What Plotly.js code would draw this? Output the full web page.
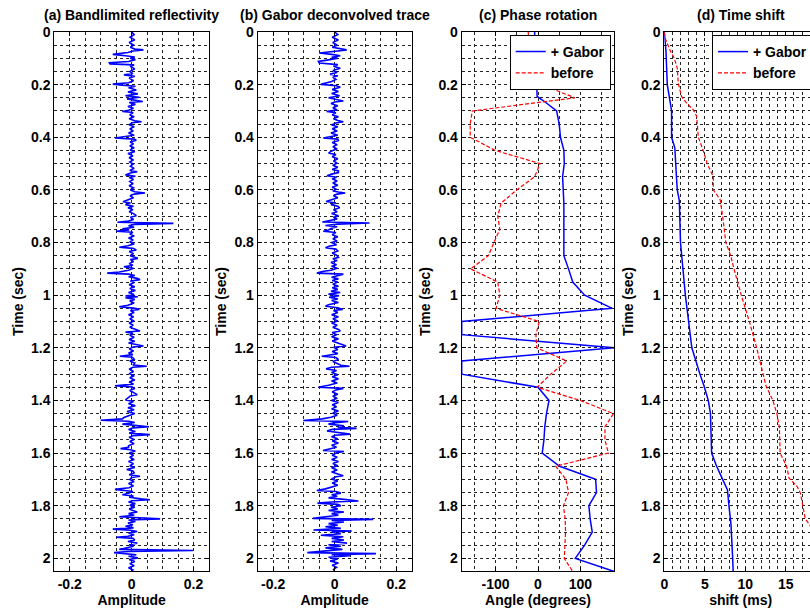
<!DOCTYPE html>
<html><head><meta charset="utf-8">
<script src="https://cdn.plot.ly/plotly-3.0.1.min.js"></script>
<style>html,body{margin:0;padding:0;overflow:hidden;background:#fff}#plot{width:830px;height:608px}</style>
</head><body><div id="plot"></div>
<script>
// ---------- data ----------
const timeA = [0.000,0.010,0.020,0.030,0.040,0.050,0.058,0.065,0.068,0.072,0.078,0.085,0.090,0.095,0.100,0.105,0.112,0.117,0.121,0.125,0.130,0.140,0.150,0.158,0.163,0.168,0.175,0.185,0.193,0.198,0.202,0.206,0.212,0.220,0.228,0.235,0.242,0.248,0.254,0.260,0.264,0.268,0.275,0.283,0.290,0.297,0.302,0.306,0.315,0.322,0.330,0.337,0.341,0.345,0.352,0.360,0.368,0.376,0.384,0.392,0.398,0.403,0.407,0.411,0.418,0.425,0.433,0.440,0.448,0.455,0.462,0.470,0.478,0.486,0.494,0.502,0.510,0.518,0.526,0.531,0.536,0.543,0.548,0.553,0.560,0.568,0.576,0.584,0.592,0.600,0.607,0.612,0.616,0.622,0.630,0.638,0.645,0.650,0.656,0.662,0.668,0.675,0.683,0.690,0.698,0.704,0.712,0.718,0.723,0.727,0.731,0.736,0.742,0.748,0.752,0.757,0.761,0.768,0.775,0.783,0.790,0.798,0.805,0.812,0.818,0.822,0.828,0.834,0.842,0.850,0.856,0.860,0.865,0.872,0.880,0.886,0.892,0.898,0.905,0.912,0.916,0.920,0.925,0.930,0.936,0.941,0.946,0.952,0.960,0.968,0.975,0.982,0.990,0.998,1.003,1.006,1.010,1.016,1.022,1.030,1.038,1.044,1.049,1.054,1.058,1.066,1.074,1.082,1.090,1.098,1.106,1.114,1.122,1.130,1.136,1.140,1.145,1.152,1.160,1.168,1.175,1.182,1.188,1.193,1.197,1.204,1.212,1.220,1.226,1.232,1.236,1.243,1.250,1.258,1.265,1.270,1.274,1.281,1.290,1.298,1.306,1.314,1.322,1.330,1.338,1.344,1.349,1.355,1.362,1.370,1.378,1.383,1.390,1.398,1.404,1.412,1.420,1.428,1.435,1.442,1.450,1.458,1.465,1.470,1.475,1.479,1.484,1.490,1.495,1.500,1.504,1.510,1.518,1.524,1.530,1.534,1.540,1.548,1.556,1.564,1.572,1.578,1.583,1.587,1.592,1.600,1.608,1.616,1.624,1.632,1.640,1.648,1.655,1.662,1.668,1.675,1.682,1.688,1.693,1.700,1.708,1.716,1.724,1.732,1.738,1.742,1.746,1.752,1.758,1.763,1.768,1.774,1.777,1.781,1.786,1.792,1.798,1.806,1.812,1.818,1.824,1.830,1.836,1.842,1.846,1.850,1.854,1.860,1.866,1.872,1.878,1.884,1.889,1.893,1.898,1.904,1.910,1.916,1.920,1.924,1.930,1.936,1.942,1.948,1.954,1.960,1.966,1.970,1.974,1.978,1.982,1.986,1.992,1.998,2.004,2.012,2.020,2.028,2.036,2.044,2.048];
const ampA = [0.000,0.008,-0.005,0.010,-0.008,0.006,-0.004,0.010,0.038,0.005,-0.012,-0.061,-0.020,0.010,-0.005,0.012,-0.010,-0.072,-0.070,0.008,-0.005,0.010,-0.006,0.004,-0.025,0.010,-0.008,0.006,-0.010,-0.061,-0.030,0.012,-0.010,0.015,-0.012,0.020,-0.020,0.025,-0.015,0.018,0.036,-0.008,0.012,-0.012,0.006,-0.010,-0.030,0.005,-0.006,0.008,-0.008,0.010,0.032,0.002,-0.008,0.008,-0.006,0.005,-0.010,0.008,-0.020,-0.054,0.008,0.015,-0.005,0.006,-0.006,0.008,-0.005,0.010,-0.012,0.004,-0.008,0.006,-0.006,0.005,-0.004,0.008,-0.006,0.018,-0.004,-0.020,0.012,-0.008,0.006,-0.006,0.005,-0.008,0.006,-0.004,0.010,0.043,0.008,-0.005,0.006,-0.010,-0.028,-0.004,-0.020,0.006,-0.012,0.004,-0.008,0.006,0.015,-0.004,0.006,-0.010,-0.046,0.135,0.010,-0.010,0.008,-0.030,-0.008,-0.050,0.004,-0.006,0.008,-0.010,0.005,-0.006,0.008,-0.012,-0.040,0.004,0.015,-0.008,0.006,-0.005,0.010,0.020,-0.004,0.006,-0.008,0.004,-0.025,0.006,-0.010,-0.040,-0.079,-0.010,0.010,-0.010,0.018,0.027,-0.004,0.008,-0.008,0.010,-0.006,0.012,-0.010,0.008,-0.020,0.020,-0.020,0.010,-0.006,0.008,-0.012,-0.040,0.006,0.025,-0.004,0.008,-0.010,0.006,-0.006,0.008,-0.008,0.005,-0.006,0.010,0.027,-0.020,0.004,-0.006,0.008,-0.008,0.010,-0.010,0.020,0.038,0.005,-0.008,0.006,-0.010,0.004,-0.038,0.002,0.008,-0.006,0.010,0.004,0.049,0.004,-0.008,0.006,-0.008,0.008,-0.006,0.010,-0.008,0.006,-0.054,0.002,0.010,-0.006,0.008,0.018,-0.004,-0.010,-0.020,0.006,-0.010,0.012,-0.012,0.008,-0.015,0.010,-0.012,-0.025,-0.030,-0.100,-0.010,0.010,-0.030,0.004,0.056,0.004,-0.010,0.012,-0.008,0.059,0.004,-0.008,0.008,-0.006,0.008,-0.010,-0.010,-0.036,-0.004,0.012,-0.008,0.006,-0.006,0.008,-0.010,0.006,-0.006,0.010,-0.016,0.004,0.008,-0.008,0.027,0.000,-0.006,0.008,-0.010,0.006,-0.008,-0.054,-0.020,0.004,-0.008,-0.030,0.006,-0.008,0.030,0.059,0.002,-0.010,0.012,-0.006,0.010,-0.008,0.004,0.018,-0.010,0.008,-0.040,0.010,0.092,-0.010,0.012,-0.012,0.004,-0.020,0.006,-0.061,-0.004,0.018,-0.010,0.008,-0.012,-0.050,0.004,0.010,-0.012,0.018,-0.008,0.006,-0.020,-0.040,0.198,-0.010,-0.057,-0.030,0.015,-0.010,0.020,-0.008,0.010,-0.006,0.008,-0.010,0.004,0.000];

const timeB = [0.000,0.010,0.020,0.030,0.040,0.050,0.058,0.064,0.068,0.072,0.076,0.080,0.085,0.090,0.096,0.100,0.106,0.112,0.118,0.124,0.130,0.138,0.146,0.154,0.160,0.166,0.172,0.180,0.188,0.194,0.199,0.204,0.210,0.218,0.226,0.234,0.242,0.250,0.256,0.262,0.266,0.272,0.280,0.288,0.296,0.302,0.307,0.315,0.322,0.330,0.336,0.341,0.346,0.353,0.360,0.368,0.376,0.384,0.392,0.398,0.403,0.407,0.412,0.420,0.428,0.436,0.444,0.452,0.460,0.466,0.474,0.482,0.490,0.498,0.506,0.514,0.522,0.528,0.534,0.540,0.546,0.552,0.558,0.566,0.574,0.582,0.590,0.598,0.604,0.608,0.612,0.616,0.622,0.630,0.638,0.644,0.650,0.656,0.662,0.668,0.675,0.683,0.690,0.698,0.704,0.710,0.716,0.722,0.726,0.730,0.735,0.740,0.746,0.752,0.757,0.762,0.770,0.778,0.786,0.794,0.800,0.808,0.814,0.820,0.825,0.832,0.840,0.848,0.856,0.862,0.868,0.876,0.884,0.890,0.898,0.905,0.910,0.916,0.920,0.926,0.932,0.938,0.944,0.950,0.958,0.966,0.972,0.978,0.985,0.990,0.996,1.002,1.008,1.014,1.020,1.028,1.036,1.042,1.048,1.054,1.058,1.066,1.074,1.082,1.090,1.098,1.106,1.114,1.122,1.130,1.136,1.142,1.150,1.158,1.166,1.174,1.182,1.188,1.193,1.198,1.206,1.214,1.222,1.228,1.232,1.237,1.244,1.252,1.260,1.266,1.270,1.274,1.280,1.286,1.294,1.302,1.310,1.318,1.326,1.334,1.342,1.350,1.354,1.360,1.368,1.376,1.384,1.392,1.400,1.408,1.416,1.424,1.432,1.440,1.448,1.456,1.464,1.470,1.476,1.480,1.485,1.490,1.496,1.502,1.506,1.510,1.516,1.522,1.528,1.532,1.538,1.546,1.554,1.562,1.570,1.578,1.585,1.590,1.594,1.600,1.608,1.616,1.624,1.632,1.640,1.648,1.656,1.664,1.672,1.680,1.686,1.690,1.698,1.706,1.714,1.722,1.730,1.736,1.742,1.746,1.752,1.758,1.764,1.770,1.776,1.782,1.786,1.790,1.795,1.800,1.806,1.812,1.818,1.824,1.830,1.836,1.842,1.848,1.852,1.856,1.862,1.868,1.874,1.880,1.886,1.892,1.896,1.900,1.906,1.912,1.918,1.924,1.930,1.936,1.942,1.948,1.954,1.960,1.966,1.972,1.978,1.982,1.986,1.990,1.996,2.002,2.010,2.018,2.026,2.034,2.042,2.048];
const ampB = [0.000,0.010,-0.008,0.012,-0.006,0.008,-0.008,0.015,0.039,0.010,-0.020,-0.050,-0.010,0.018,-0.010,0.010,-0.020,-0.053,-0.050,0.010,-0.004,0.018,-0.006,0.008,-0.015,0.010,-0.006,0.004,-0.010,-0.030,-0.045,0.006,0.018,-0.008,0.012,-0.010,0.016,-0.020,0.010,0.028,0.000,-0.012,0.010,-0.006,0.008,-0.026,0.004,-0.008,0.012,-0.004,0.010,0.028,0.004,-0.010,0.010,-0.008,0.008,-0.012,0.010,-0.015,-0.037,0.010,0.012,-0.008,0.008,-0.006,0.008,-0.010,-0.020,0.004,-0.008,0.010,-0.004,0.008,-0.006,0.010,-0.008,0.012,0.012,-0.010,-0.025,0.006,-0.008,0.008,-0.006,0.010,-0.008,0.006,-0.006,0.012,0.034,0.008,-0.004,0.010,-0.008,-0.028,0.004,-0.012,0.010,0.016,-0.004,0.008,-0.010,0.012,-0.004,0.008,-0.015,-0.040,0.113,0.010,-0.030,0.008,-0.010,-0.020,-0.037,0.004,-0.008,0.010,-0.006,0.008,-0.010,0.006,-0.018,-0.030,0.004,0.010,-0.008,0.006,0.012,-0.006,0.008,-0.012,0.006,-0.010,0.008,-0.012,-0.040,-0.058,0.028,0.006,-0.010,0.012,-0.008,0.010,-0.006,0.012,-0.008,0.010,-0.012,0.018,-0.020,0.014,-0.018,0.010,-0.010,0.012,-0.020,-0.030,0.010,0.026,-0.004,0.010,-0.010,0.012,-0.006,0.010,-0.010,0.008,-0.006,0.012,0.018,-0.008,0.006,-0.010,0.012,-0.008,0.010,0.020,0.037,-0.004,0.010,-0.008,0.010,-0.020,-0.042,0.004,0.012,-0.006,0.010,0.020,0.048,-0.010,-0.028,0.006,-0.010,0.010,-0.008,0.012,-0.010,0.008,-0.020,-0.053,0.028,0.004,-0.008,0.010,-0.006,0.008,-0.010,0.012,-0.008,0.006,-0.010,0.012,-0.006,0.008,-0.012,-0.040,-0.102,0.044,-0.004,-0.020,0.030,0.010,0.071,-0.008,-0.025,0.008,0.050,0.002,-0.010,0.010,-0.008,0.012,-0.010,0.006,-0.020,-0.038,0.030,0.004,-0.008,0.008,-0.010,0.012,-0.006,0.010,-0.010,0.008,-0.010,0.012,0.028,0.004,-0.010,0.010,-0.008,0.010,-0.012,-0.030,-0.058,0.004,0.020,-0.010,0.008,-0.020,0.030,0.077,-0.010,-0.056,0.010,0.020,-0.012,0.010,-0.020,0.030,-0.010,0.012,-0.030,-0.071,0.125,-0.010,0.030,-0.020,0.010,-0.030,0.020,-0.069,0.055,-0.010,0.020,-0.045,0.028,-0.010,0.030,-0.010,0.040,-0.020,0.020,-0.030,0.025,-0.040,-0.089,0.134,-0.010,0.050,-0.020,0.010,-0.015,0.012,-0.008,0.006,-0.004,0.000];

const phaseTimeGabor = [0,0.2,0.245,0.265,0.3,0.35,0.4,0.45,0.5,0.55,0.6,0.65,0.7,0.75,0.8,0.85,0.9,0.95,1.0,1.05,1.1,1.15,1.2,1.25,1.3,1.35,1.4,1.45,1.5,1.55,1.6,1.65,1.7,1.75,1.8,1.85,1.9,1.95,2.0,2.05];
const phaseGabor = [-8,-4,-2,16,44,50,53,61,62,58,60,61,61,61,61,61,72,82,110,175,-180,-180,180,-180,-180,0,26,20,16,14,10,51,136,138,120,123,128,110,88,180];
const phaseTimeBefore = [0,0.05,0.1,0.15,0.2,0.25,0.3,0.35,0.4,0.45,0.5,0.55,0.6,0.65,0.7,0.75,0.8,0.85,0.9,0.95,1.0,1.05,1.1,1.15,1.2,1.25,1.3,1.35,1.4,1.45,1.5,1.55,1.6,1.65,1.7,1.75,1.8,1.85,1.9,1.95,2.0,2.05];
const phaseBefore = [-23,-22,-5,11,9,87,-155,-160,-160,-101,5,-8,-50,-87,-95,-90,-104,-117,-159,-95,-90,-99,3,-5,-3,68,30,-2,100,178,158,158,166,42,66,72,60,64,65,64,62,82];

const shiftTimeGabor = [0,0.07,0.2,0.3,0.4,0.44,0.55,0.6,0.64,0.7,0.8,0.9,1.0,1.1,1.2,1.3,1.344,1.4,1.45,1.6,1.65,1.7,1.74,1.8,1.87,2.0,2.048];
const shiftGabor = [0,0.2,0.37,0.9,0.9,1.3,1.5,1.6,1.85,1.9,2.0,2.3,2.6,3.0,3.4,4.4,4.9,5.43,5.7,5.84,6.46,7.2,7.8,7.98,8.23,8.44,8.5];
const shiftTimeBefore = [0,0.024,0.068,0.1,0.137,0.195,0.246,0.27,0.296,0.32,0.4,0.45,0.5,0.55,0.6,0.637,0.7,0.8,0.85,0.9,1.0,1.1,1.2,1.3,1.344,1.4,1.45,1.5,1.6,1.65,1.695,1.727,1.752,1.8,1.85,1.874,1.95,2.048];
const shiftBefore = [0,0.1,0.7,1.23,1.6,1.73,2.14,2.76,3.58,4.0,4.2,4.8,5.3,6.05,6.05,6.9,7.2,7.6,8.2,8.6,9.5,10.5,11.4,12.2,12.55,13.4,13.9,14.2,14.3,15.1,15.4,16.4,16.8,17.1,17.4,18.0,18.5,18.8];

const panelTitles = ['(a) Bandlimited reflectivity','(b) Gabor deconvolved trace','(c) Phase rotation','(d) Time shift'];
const xTitles = ['Amplitude','Amplitude','Angle (degrees)','shift (ms)'];
const yTitle = 'Time (sec)';
const ampTickVals = [-0.2,0,0.2];
const ampTickText = ['-0.2','0','0.2'];
const angTickVals = [-100,0,100];
const angTickText = ['-100','0','100'];
const shiftTickVals = [0,5,10,15];
const shiftTickText = ['0','5','10','15'];
const legendNames = ['+ Gabor','before'];

// ---------- layout ----------
const W = 830, H = 608;
const plotTop = 32, plotBottom = 571;
const panelsPx = [[54.3,209],[257.7,411.7],[461.7,614.3],[664.3,817]];
const xRanges = [[-0.25,0.25],[-0.25,0.25],[-180,180],[0,18.85]];
const minorD = [0.05,0.05,50,1];
const tv = [ampTickVals,ampTickVals,angTickVals,shiftTickVals];
const tt = [ampTickText,ampTickText,angTickText,shiftTickText];
const FONT = 'Liberation Sans, Arial, sans-serif';
const GRID = '#222';
const F = {family:FONT,size:14,color:'#000',weight:'bold'};

const layout = {
  width: W, height: H, margin: {l:0,r:0,t:0,b:0},
  paper_bgcolor:'#fff', plot_bgcolor:'#fff',
  font: F,
  annotations: [],
  showlegend: true
};
for (let i=0;i<4;i++){
  const s = i===0 ? '' : String(i+1);
  const dom = [panelsPx[i][0]/W, panelsPx[i][1]/W];
  layout['xaxis'+s] = {
    domain: dom, anchor: 'y'+s, range: xRanges[i],
    tickmode:'array', tickvals: tv[i], ticktext: tt[i],
    ticks:'inside', ticklen:4, tickcolor:'#000', mirror:'ticks', showline:true, linecolor:'#000', linewidth:1,
    showgrid:true, gridcolor:GRID, griddash:'dot', gridwidth:1, zeroline:false,
    minor:{dtick:minorD[i], tick0:0, showgrid:true, gridcolor:GRID, griddash:'dot', gridwidth:1, ticks:''},
    tickfont:F,
    title:{text:xTitles[i], font:F, standoff:1}
  };
  layout['yaxis'+s] = {
    domain: [1-plotBottom/H, 1-plotTop/H], anchor: 'x'+s, range: [2.048,0],
    dtick:0.2, tick0:0,
    ticks:'inside', ticklen:4, tickcolor:'#000', mirror:'ticks', showline:true, linecolor:'#000', linewidth:1,
    showgrid:true, gridcolor:GRID, griddash:'dot', gridwidth:1, zeroline:false,
    minor:{dtick:0.05, tick0:0, showgrid:true, gridcolor:GRID, griddash:'dot', gridwidth:1, ticks:''},
    tickfont:F,
    title:{text:yTitle, font:F, standoff:4}
  };
  layout.annotations.push({
    text: panelTitles[i], xref:'paper', yref:'paper',
    x: (panelsPx[i][0]+panelsPx[i][1])/2/W, y: 1-15/H, xanchor:'center', yanchor:'middle',
    showarrow:false, font:F
  });
}
const legendStyle = (xr) => ({
  x: xr/W, y: 1-35/H, xanchor:'right', yanchor:'top', xref:'paper', yref:'paper',
  bgcolor:'#fff', bordercolor:'#000', borderwidth:1,
  font:F, itemwidth:30, tracegroupgap:0
});
layout.legend = legendStyle(610.7);
layout.legend2 = legendStyle(813);

const blue = '#0000ff', red = '#ff0000';
const data = [
  {x: ampA, y: timeA, xaxis:'x', yaxis:'y', mode:'lines', line:{color:blue,width:1.6}, showlegend:false},
  {x: ampB, y: timeB, xaxis:'x2', yaxis:'y2', mode:'lines', line:{color:blue,width:1.6}, showlegend:false},
  {x: phaseGabor, y: phaseTimeGabor, xaxis:'x3', yaxis:'y3', mode:'lines', name:legendNames[0], line:{color:blue,width:1.5}, legend:'legend'},
  {x: phaseBefore, y: phaseTimeBefore, xaxis:'x3', yaxis:'y3', mode:'lines', name:legendNames[1], line:{color:red,width:1.2,dash:'4px,2px'}, legend:'legend'},
  {x: shiftGabor, y: shiftTimeGabor, xaxis:'x4', yaxis:'y4', mode:'lines', name:legendNames[0], line:{color:blue,width:1.5}, legend:'legend2'},
  {x: shiftBefore, y: shiftTimeBefore, xaxis:'x4', yaxis:'y4', mode:'lines', name:legendNames[1], line:{color:red,width:1.2,dash:'4px,2px'}, legend:'legend2'}
];
Plotly.newPlot('plot', data, layout, {displayModeBar:false, staticPlot:true});
</script></body></html>
